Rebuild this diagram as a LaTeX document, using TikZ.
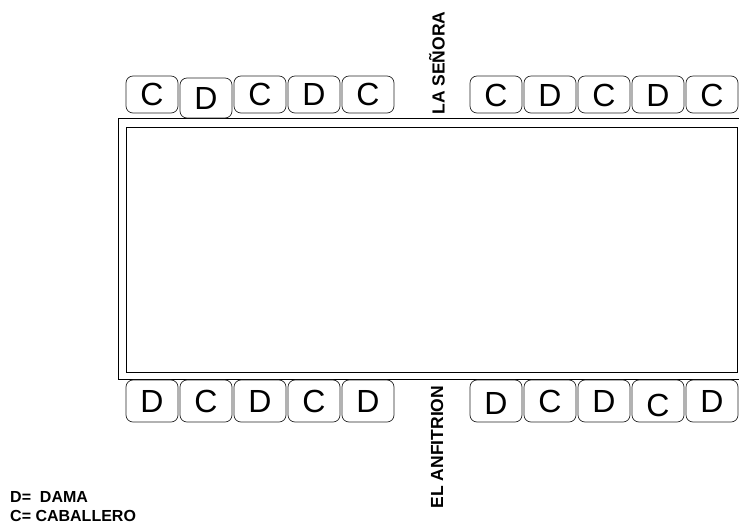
\documentclass[tikz,border=0pt]{standalone}
\usepackage{fontspec}
\setmainfont{Liberation Sans}
\begin{document}
\begin{tikzpicture}[x=1pt,y=-1pt,
  seat/.style={draw=black!85,line width=0.7pt,rounded corners=7pt,inner sep=0pt},
  letter/.style={font=\fontsize{32}{32}\selectfont,inner sep=0pt},
  guest/.style={font=\bfseries\fontsize{17.5}{17.5}\selectfont,rotate=90,inner sep=0pt},
  legend/.style={font=\bfseries\fontsize{16}{16}\selectfont,inner sep=0pt,anchor=base west}]
\useasboundingbox (0,0) rectangle (739,523);

% table: outer and inner edge
\draw[line width=0.8pt] (118,118) rectangle (760,379);
\draw[line width=0.8pt] (126,127) rectangle (737,372);

% top row of seats
\foreach \i/\l/\t/\b in {0/C/76/113,1/D/78/118,2/C/76/113,3/D/76/113,4/C/76/113}{
  \draw[seat] ({126+54*\i},\t) rectangle ({178+54*\i},\b);
  \node[letter] (tl\i) at ({152+54*\i},{(\t+\b)/2}) {\l};
}
\foreach \i/\l in {0/C,1/D,2/C,3/D,4/C}{
  \draw[seat] ({470+54*\i},76) rectangle ({522+54*\i},113);
  \node[letter] (tr\i) at ({496+54*\i},95) {\l};
}

% bottom row of seats
\foreach \i/\l in {0/D,1/C,2/D,3/C,4/D}{
  \draw[seat] ({126+54*\i},380) rectangle ({178+54*\i},422);
  \node[letter] (bl\i) at ({152+54*\i},401) {\l};
}
\foreach \i/\l/\dy in {0/D/2,1/C/0,2/D/0,3/C/4,4/D/0}{
  \draw[seat] ({470+54*\i},380) rectangle ({522+54*\i},422);
  \node[letter] (br\i) at ({496+54*\i},{401+\dy}) {\l};
}

% heads of the table
\node[guest] (senora) at (437,63) {LA SEÑORA};
\node[guest] (anfitrion) at (437,447) {EL ANFITRION};

% legend
\node[legend] (ld) at (10,502) {D=\ \ DAMA};
\node[legend] (lc) at (10,521) {C= CABALLERO};
\end{tikzpicture}
\end{document}
